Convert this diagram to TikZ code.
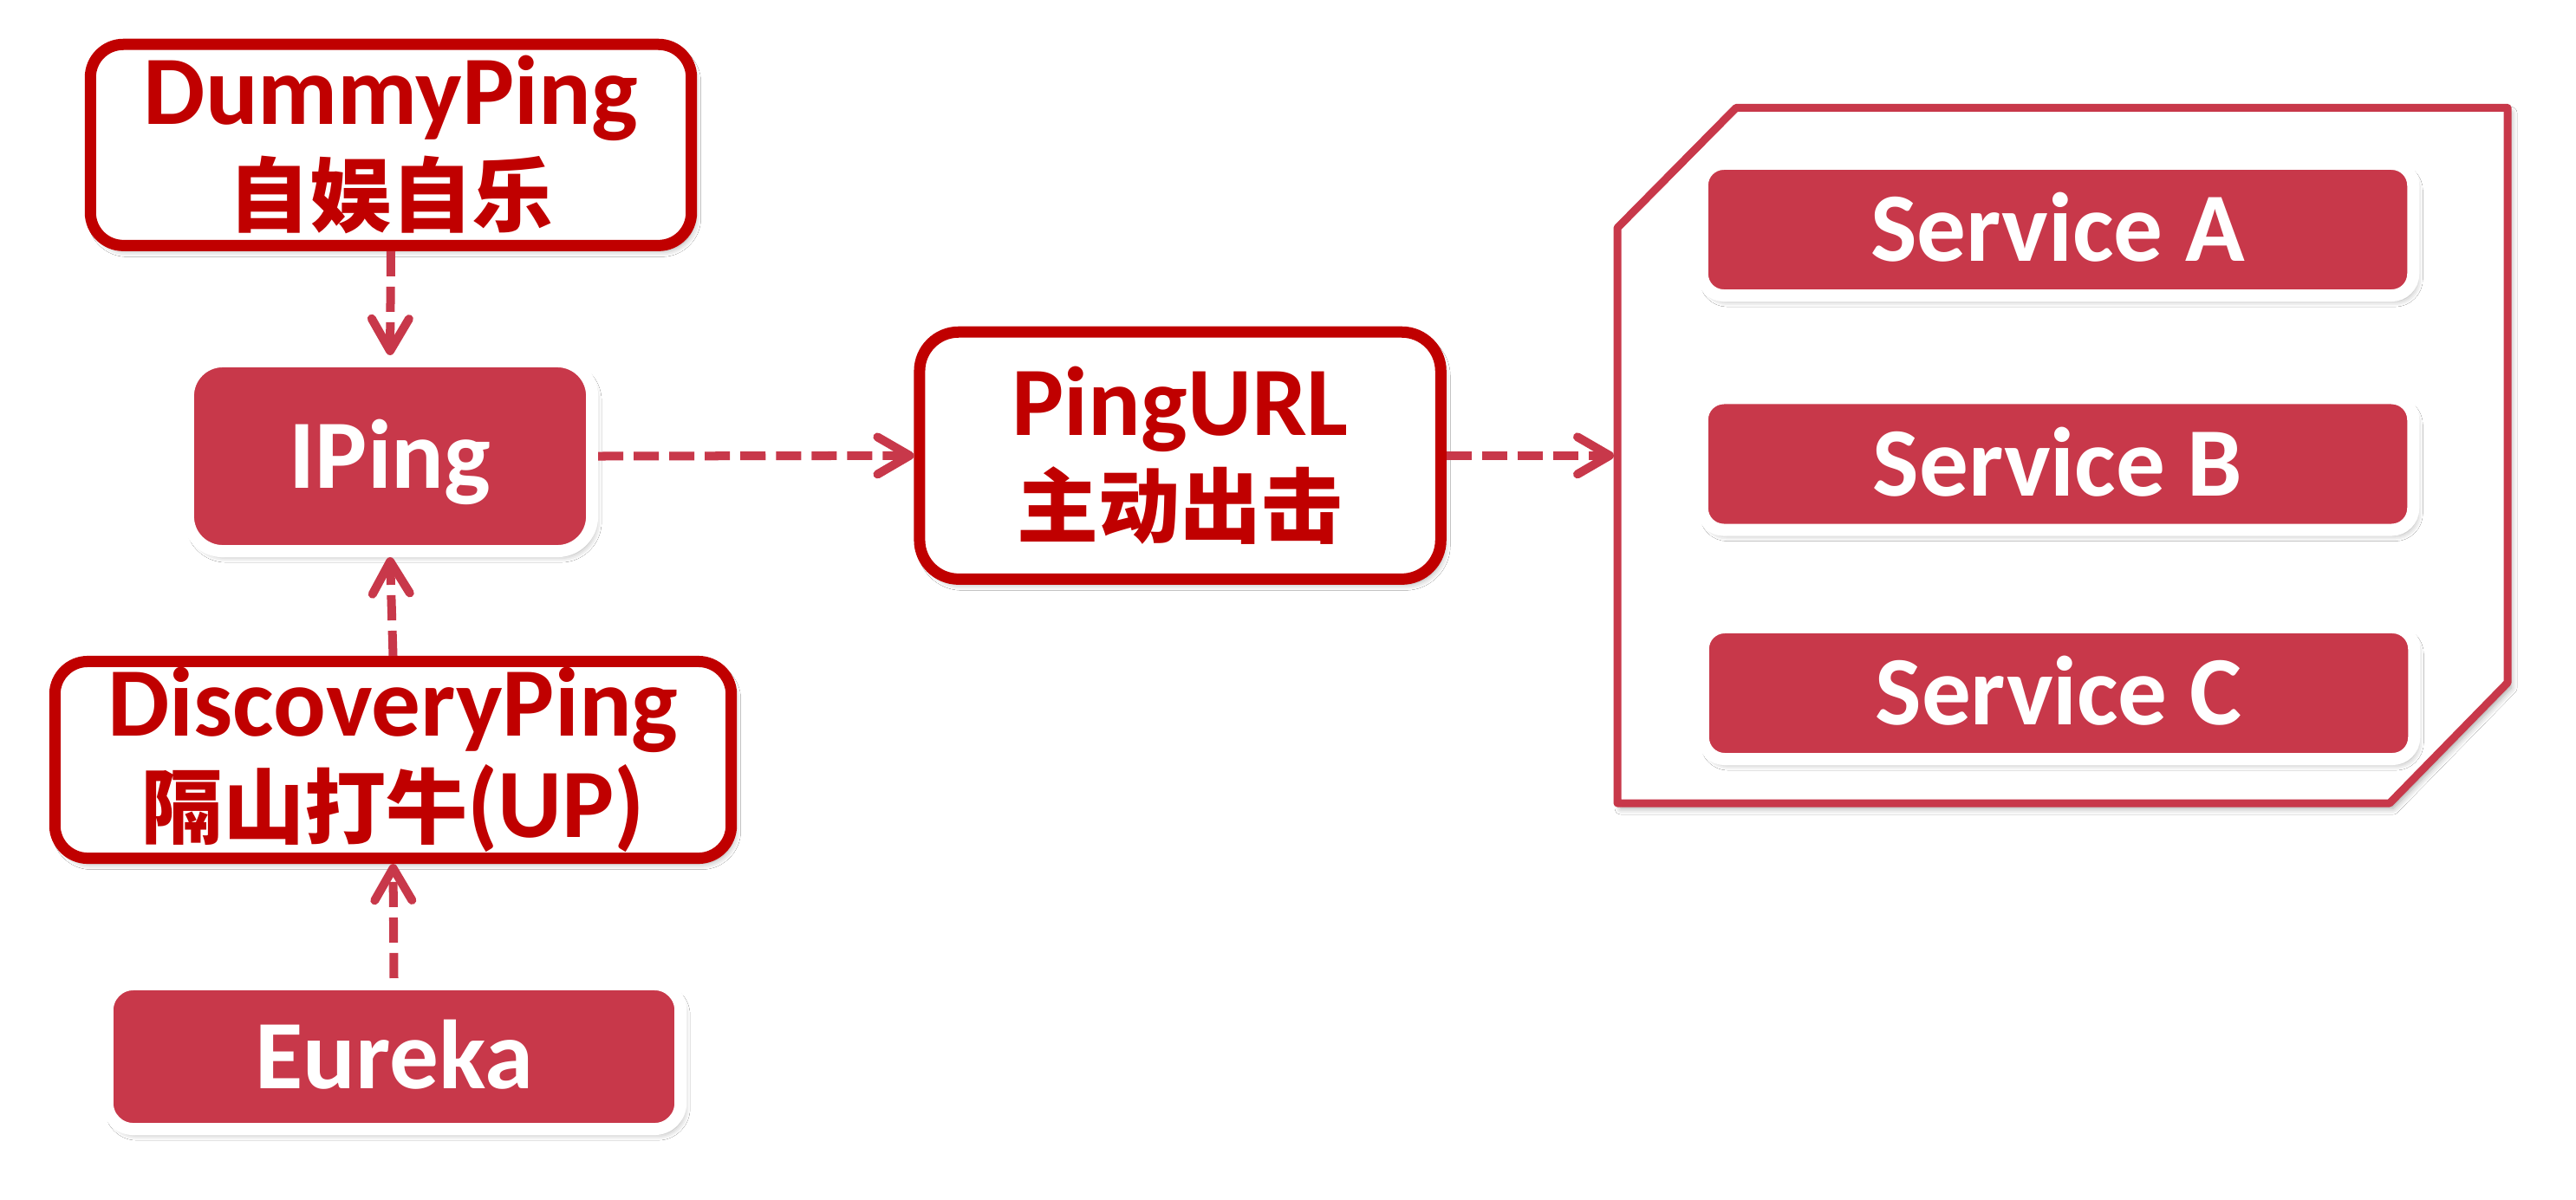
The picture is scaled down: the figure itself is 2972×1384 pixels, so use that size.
\documentclass[tikz,border=0pt]{standalone}
\usepackage{fontspec}
\setmainfont{Carlito}
\newfontfamily\zh{Noto Sans CJK SC Bold}[Scale=0.83]
\usetikzlibrary{arrows.meta,shadows.blur}
\definecolor{dred}{RGB}{192,0,0}
\definecolor{pred}{RGB}{200,56,74}
\begin{document}
\begin{tikzpicture}[x=0.01cm,y=-0.01cm,
  every node/.style={font=\fontsize{32.2pt}{33.3pt}\selectfont\bfseries, inner sep=0pt, align=center},
  shd/.style={blur shadow={shadow xshift=0.04cm, shadow yshift=-0.06cm, shadow blur radius=0.07cm, shadow opacity=35}},
  redbox/.style={draw=dred, line width=0.13cm, fill=white, rounded corners=0.38cm, text=dred, shd},
  pinkbox/.style={fill=pred, draw=white, line width=0.14cm, text=white, text height=0.73cm, text depth=0pt, shd},
  conn/.style={draw=pred, line width=0.1cm, dash pattern=on 0.29cm off 0.12cm,
    -{Straight Barb[length=0.37cm,width=0.43cm,round]}},
  grpline/.style={draw=pred, line width=0.09cm, fill=white, line join=round, shd},
]
\fill[white] (0,0) rectangle (2972,1384);
\useasboundingbox (0,0) rectangle (2972,1384);

% container
\draw[grpline] (1866,263) -- (2003,124.4) -- (2893,124.4) -- (2893,788) -- (2757,927) -- (1866,927) -- cycle;
\coordinate (grpW) at (1862,526);

% nodes
\node[redbox, minimum width=6.93cm, minimum height=2.32cm] (dummy) at (451,167.3) {DummyPing\\{\zh 自娱自乐}};
\node[pinkbox, rounded corners=0.4cm, minimum width=4.66cm, minimum height=2.19cm] (iping) at (450,526.5) {IPing};
\node[redbox, minimum width=7.80cm, minimum height=2.27cm] (disc) at (453.5,877) {DiscoveryPing\\{\zh 隔山打牛}(UP)};
\node[pinkbox, rounded corners=0.3cm, minimum width=6.61cm, minimum height=1.67cm] (eureka) at (454.5,1219.5) {Eureka};
\node[redbox, rounded corners=0.45cm, minimum width=6.01cm, minimum height=2.85cm] (purl) at (1361.6,525.8) {PingURL\\{\zh 主动出击}};

\node[pinkbox, rounded corners=0.25cm, minimum width=8.20cm, minimum height=1.52cm] (sa) at (2374,265) {Service A};
\node[pinkbox, rounded corners=0.25cm, minimum width=8.20cm, minimum height=1.52cm] (sb) at (2374,535.5) {Service B};
\node[pinkbox, rounded corners=0.25cm, minimum width=8.20cm, minimum height=1.52cm] (sc) at (2375,800) {Service C};

% connectors
\draw[conn] (dummy.south) -- (iping.north);
\draw[conn] (disc.north) -- (iping.south);
\draw[conn] (eureka.north) -- (disc.south);
\draw[conn] (iping.east) -- (purl.west);
\draw[conn] (purl.east) -- (purl.east -| grpW);
\end{tikzpicture}
\end{document}
